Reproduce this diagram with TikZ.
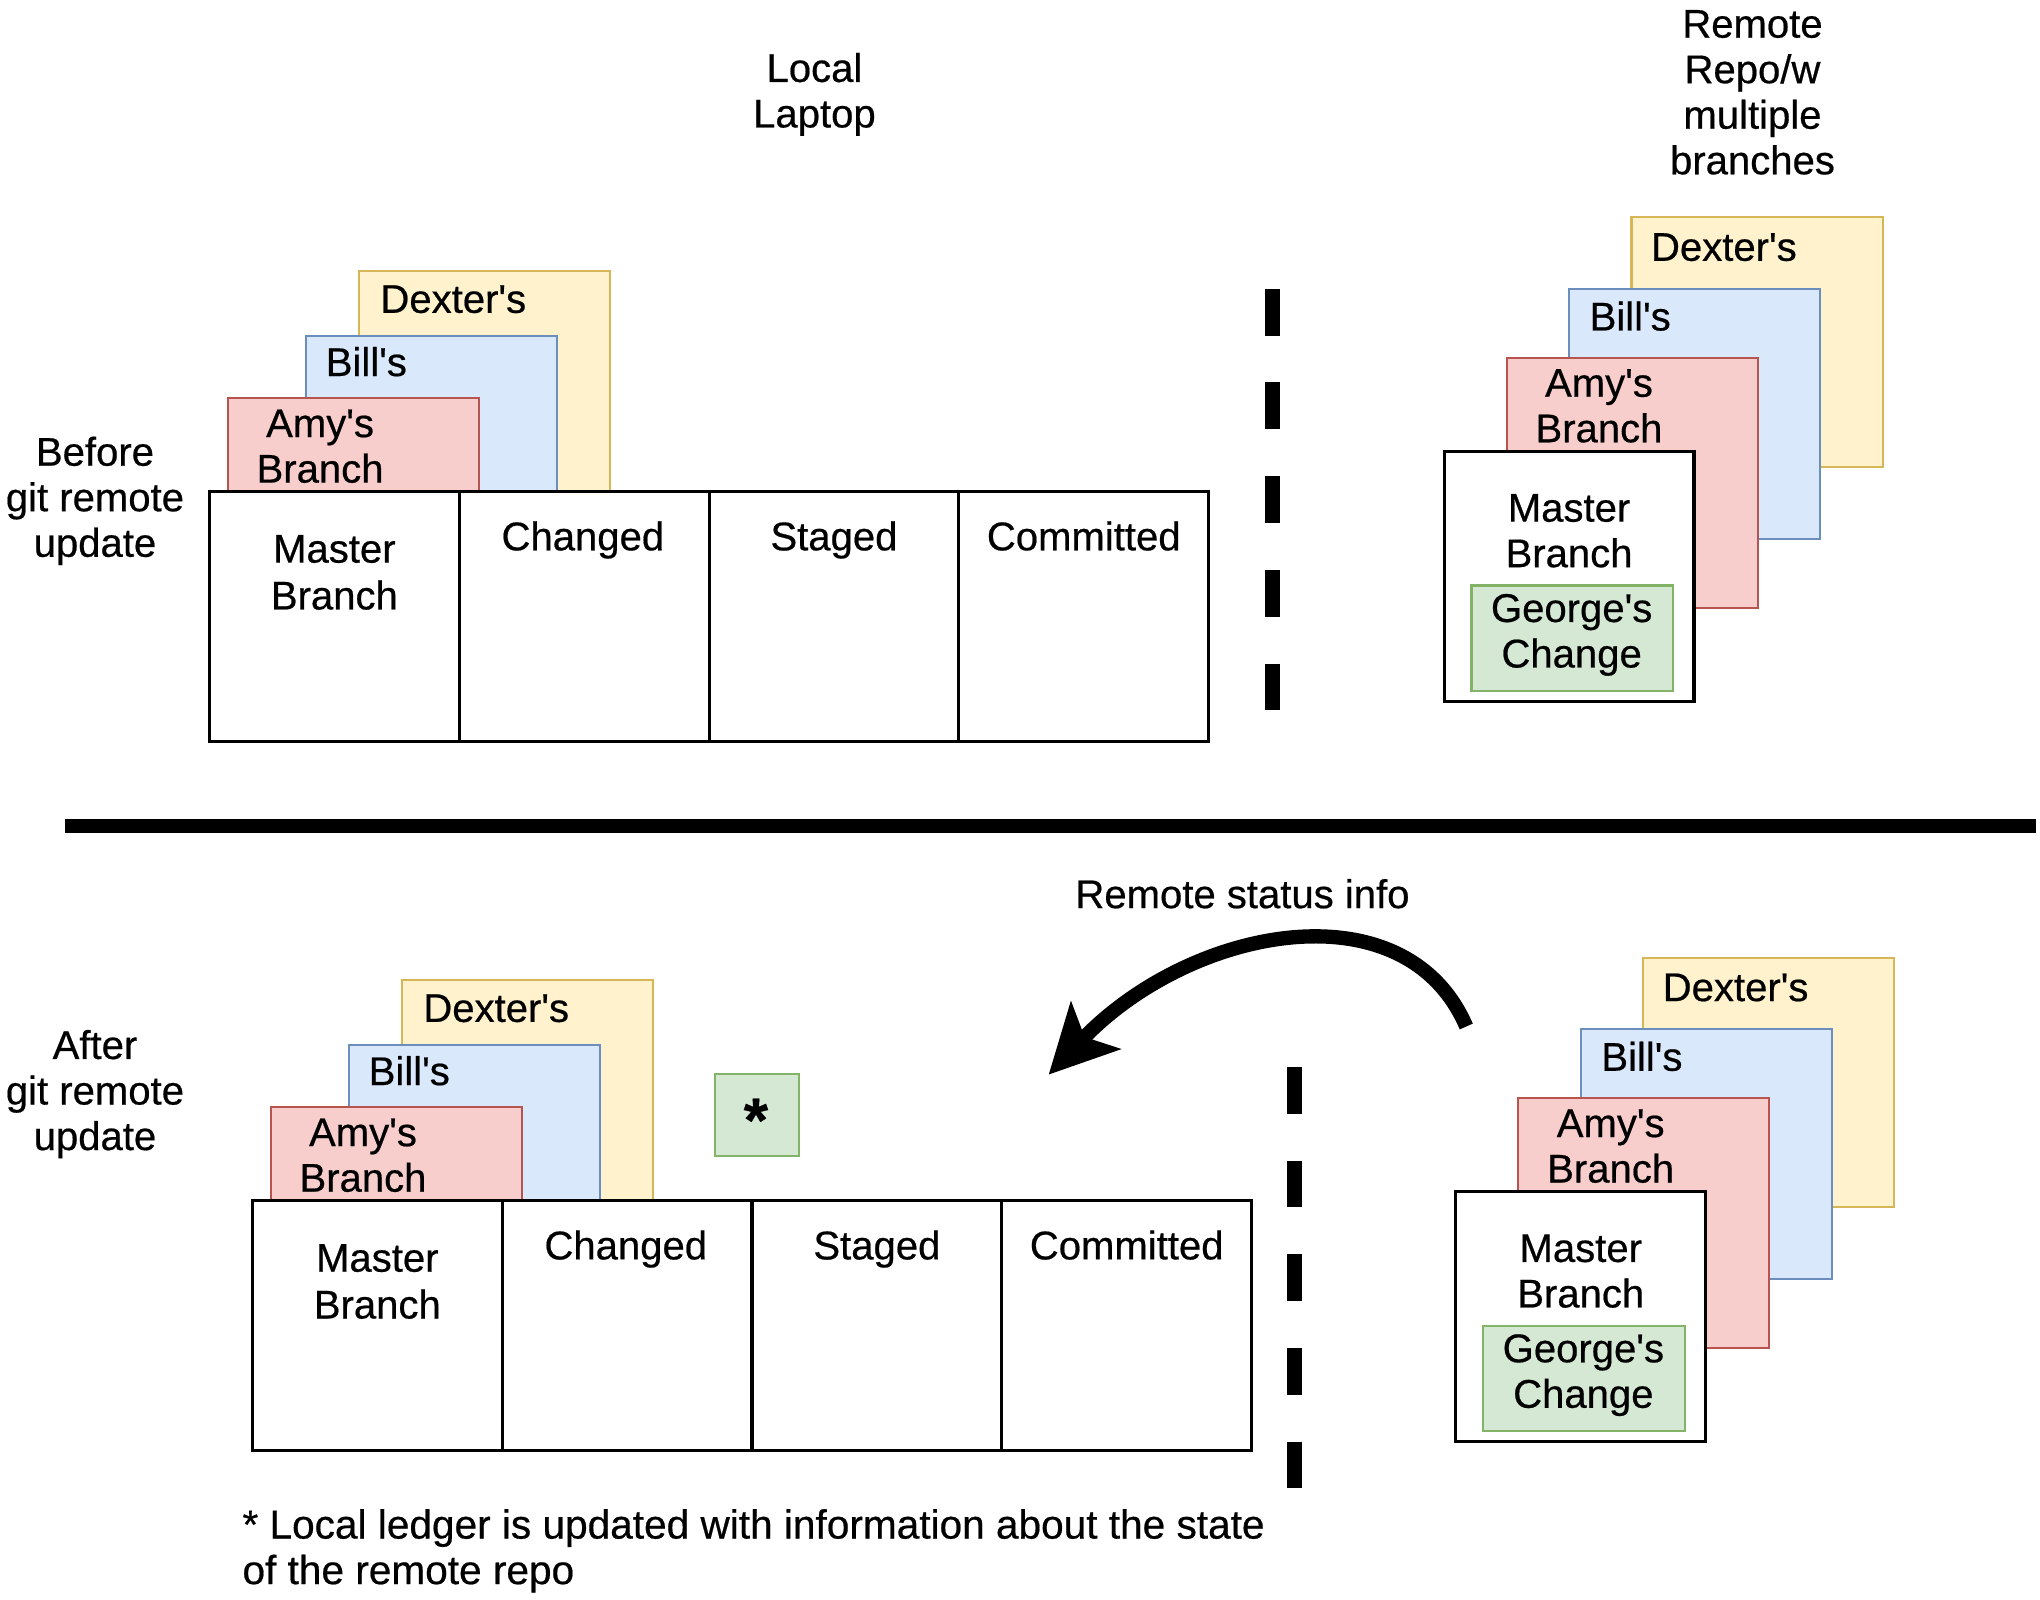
\documentclass[tikz,border=0pt]{standalone}
\usepackage{fontspec}
\setmainfont{Liberation Sans}[FakeBold=0.5]
\usetikzlibrary{arrows.meta}
\newcommand\apos{\textquotesingle}
\definecolor{yfill}{HTML}{FFF2CC}\definecolor{ydraw}{HTML}{D6B656}
\definecolor{bfill}{HTML}{DAE8FC}\definecolor{bdraw}{HTML}{6C8EBF}
\definecolor{rfill}{HTML}{F8CECC}\definecolor{rdraw}{HTML}{B85450}
\definecolor{gfill}{HTML}{D5E8D4}\definecolor{gdraw}{HTML}{82B366}
\tikzset{
  cell/.style={draw, line width=1.2pt, fill=white, minimum width=96pt, minimum height=96pt, inner sep=0pt, outer sep=0pt, anchor=north west},
  brbox/.style={draw=#1draw, fill=#1fill, line width=0.8pt, minimum width=96.5pt, minimum height=96pt, inner sep=0pt, outer sep=0pt, anchor=north west},
  gbox/.style={draw=gdraw, fill=gfill, line width=0.8pt, minimum width=77.5pt, minimum height=40.5pt, inner sep=0pt, outer sep=0pt, anchor=north west},
  lbl/.style={font=\fontsize{15.4}{17.5}\selectfont, align=center, inner sep=0pt},
  lbl2/.style={font=\fontsize{15.4}{18}\selectfont, align=center, inner sep=0pt},
  sepdash/.style={line width=5.5pt, dash pattern=on 18pt off 18pt},
}
\newcommand\LocalGroup{%
  \node[brbox=y] (dex) at (276,208) {};
  \node[brbox=b] (bil) at (235,258) {};
  \node[brbox=r] (amy) at (175,306) {};
  \node[lbl, anchor=west] (dext) at (292,230) {Dexter\apos s};
  \node[lbl, anchor=west] (bilt) at (250,278) {Bill\apos s};
  \node[lbl] (amyt) at (246,343) {Amy\apos s\\Branch};
  \node[cell] (c1) at (161,378) {};
  \node[cell] (c2) at (353,378) {};
  \node[cell] (c3) at (545,378) {};
  \node[cell] (c4) at (737,378) {};
  \node[lbl2] (c1t) at (257,440) {Master\\Branch};
  \node[lbl, anchor=base] (c2t) at (448,423) {Changed};
  \node[lbl, anchor=base] (c3t) at (641,423) {Staged};
  \node[lbl, anchor=base] (c4t) at (833,423) {Committed};
}
\newcommand\RemoteGroup{%
  \node[brbox=y] (dex) at (1254,167) {};
  \node[brbox=b] (bil) at (1206,222) {};
  \node[brbox=r] (amy) at (1158,275) {};
  \node[cell] (mas) at (1110,347) {};
  \node[gbox] (geo) at (1131,450) {};
  \node[lbl] (dext) at (1325,190) {Dexter\apos s};
  \node[lbl] (bilt) at (1253,243) {Bill\apos s};
  \node[lbl] (amyt) at (1229,312) {Amy\apos s\\Branch};
  \node[lbl] (mast) at (1206,408) {Master\\Branch};
  \node[lbl] (geot) at (1208,488) {George\apos s\\Change};
}
\begin{document}
\begin{tikzpicture}[x=0.5pt,y=-0.5pt]
\fill[white] (0,0) rectangle (1568,1229.8);
\useasboundingbox (0,0) rectangle (1568,1229.8);

% headings
\node[lbl] (local) at (626,72.5) {Local\\Laptop};
\node[lbl] (remote) at (1347,71) {Remote\\Repo/w\\multiple\\branches};
\node[lbl] (before) at (73,385) {Before\\git remote\\update};
\node[lbl] (after) at (73,841) {After\\git remote\\update};

% top half
\begin{scope}[name prefix=T-]
  \LocalGroup
\end{scope}
\begin{scope}[name prefix=TR-]
  \RemoteGroup
\end{scope}
\coordinate (tdA) at (978,222);
\coordinate (tdB) at (978,546);
\draw[sepdash] (tdA) -- (tdB);

% separator
\coordinate (sepL) at (50,635);
\coordinate (sepR) at (1565,635);
\draw[line width=5.5pt] (sepL) -- (sepR);

% bottom half
\begin{scope}[shift={(33,545)}, name prefix=B-]
  \LocalGroup
\end{scope}
\begin{scope}[shift={(9,569)}, name prefix=BR-]
  \RemoteGroup
\end{scope}
\coordinate (bdA) at (995,820);
\coordinate (bdB) at (995,1144);
\draw[sepdash] (bdA) -- (bdB);

\node[draw=gdraw, fill=gfill, line width=0.8pt, minimum width=32pt, minimum height=31.5pt, inner sep=0pt, anchor=north west] (star) at (549,825) {};
\node[font=\fontsize{24}{24}\bfseries, inner sep=0pt] (start) at (581,861) {*};

\node[lbl] (rsi) at (955,687) {Remote status info};
\coordinate (arrS) at (1127,789);
\coordinate (arrE) at (806,826);
\draw[line width=5.5pt, -{Stealth[length=26pt,width=26pt,inset=6pt]}] (arrS) .. controls (1080,680) and (915,712) .. (arrE);

\node[lbl, font=\fontsize{15.6}{17.5}\selectfont, align=left, anchor=west] (foot) at (186,1192) {* Local ledger is updated with information about the state\\of the remote repo};
\end{tikzpicture}
\end{document}
